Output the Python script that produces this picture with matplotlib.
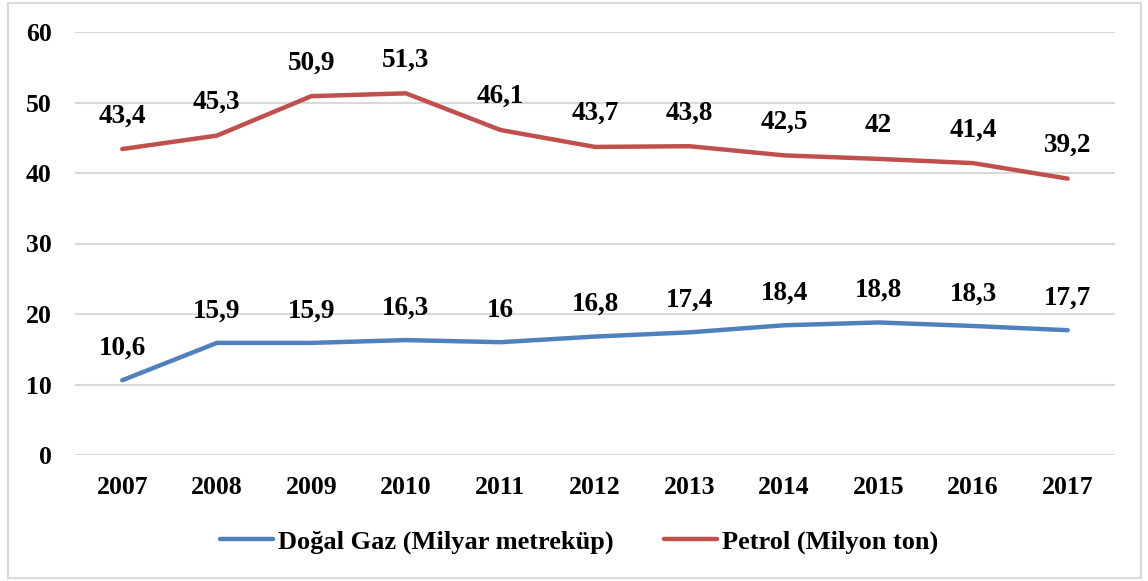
import matplotlib
matplotlib.use("Agg")
import matplotlib.pyplot as plt
from matplotlib.patches import Rectangle

years = ["2007", "2008", "2009", "2010", "2011", "2012",
         "2013", "2014", "2015", "2016", "2017"]
gas = [10.6, 15.9, 15.9, 16.3, 16.0, 16.8, 17.4, 18.4, 18.8, 18.3, 17.7]
gas_labels = ["10,6", "15,9", "15,9", "16,3", "16", "16,8",
              "17,4", "18,4", "18,8", "18,3", "17,7"]
oil = [43.4, 45.3, 50.9, 51.3, 46.1, 43.7, 43.8, 42.5, 42.0, 41.4, 39.2]
oil_labels = ["43,4", "45,3", "50,9", "51,3", "46,1", "43,7",
              "43,8", "42,5", "42", "41,4", "39,2"]
yticks = [0, 10, 20, 30, 40, 50, 60]

BLUE = "#4F81BD"
RED = "#C0504D"
GRID = "#D9D9D9"

plt.rcParams["font.family"] = ["Liberation Serif", "DejaVu Serif"]
plt.rcParams["font.weight"] = "bold"

fig = plt.figure(figsize=(11.48, 5.81), dpi=100)
fig.patches.append(Rectangle((8 / 1148, 3 / 581), 1133 / 1148, 575 / 581,
                             transform=fig.transFigure, fill=False,
                             edgecolor="#D9D9D9", lw=1.5))
ax = fig.add_axes([75 / 1148, 1 - 455 / 581, 1040 / 1148, 423 / 581])

x = list(range(len(years)))
ax.plot(x, gas, color=BLUE, lw=3.2, solid_capstyle="round",
        label="Doğal Gaz (Milyar metreküp)")
ax.plot(x, oil, color=RED, lw=3.2, solid_capstyle="round",
        label="Petrol (Milyon ton)")

for xi, v, s in zip(x, gas, gas_labels):
    ax.annotate(s, (xi, v), xytext=(0, 23), textcoords="offset points",
                ha="center", va="center", fontsize=19.5, fontweight="bold")
for xi, v, s in zip(x, oil, oil_labels):
    ax.annotate(s, (xi, v), xytext=(0, 24), textcoords="offset points",
                ha="center", va="center", fontsize=19.5, fontweight="bold")

ax.set_xlim(-0.5, len(years) - 0.5)
ax.set_ylim(0, 60)
ax.set_yticks(yticks)
ax.set_xticks(x)
ax.set_xticklabels(years)
ax.tick_params(length=0, labelsize=18.5, pad=15)
ax.tick_params(axis="y", pad=17)
ax.grid(axis="y", color=GRID, lw=1.5)
ax.set_axisbelow(True)
for sp in ax.spines.values():
    sp.set_visible(False)

ax.legend(loc="center", bbox_to_anchor=(0.485, -0.205), ncol=2, frameon=False,
          fontsize=19, handlelength=2.0, columnspacing=1.9,
          handletextpad=0.2)

fig.savefig("out.png", dpi=100)
